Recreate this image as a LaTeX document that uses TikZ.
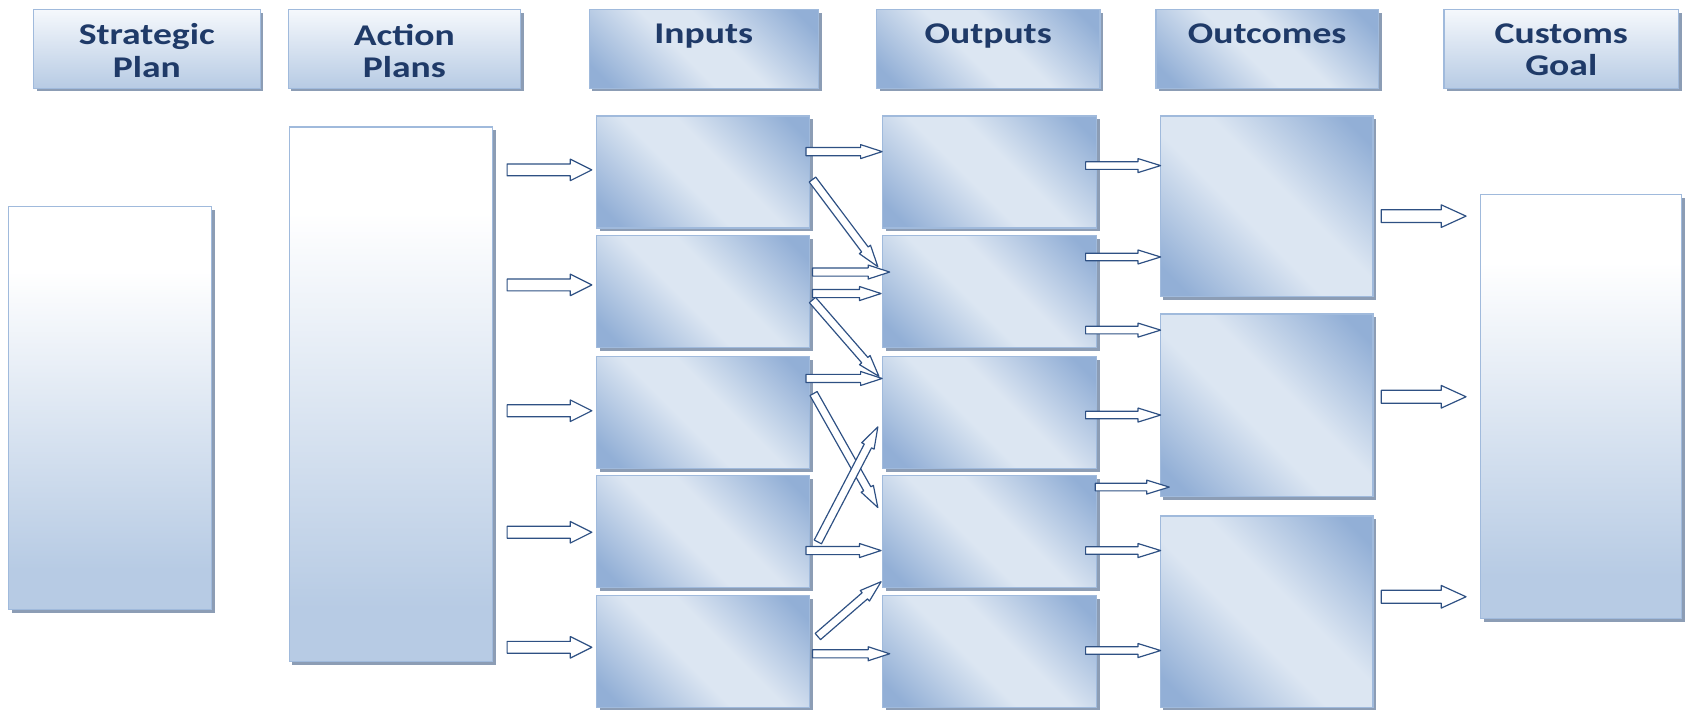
\documentclass[tikz,border=0pt]{standalone}
\usepackage{fontspec}
\newfontfamily\hdfont[FakeStretch=1.25]{Carlito}
\usetikzlibrary{calc,shadows}

\definecolor{edgec}{HTML}{A0BADC}
\definecolor{shadc}{HTML}{8C9DB5}
\definecolor{dk}{HTML}{92AFD6}
\definecolor{lt}{HTML}{DCE6F2}
\definecolor{vbot}{HTML}{B7CBE4}
\definecolor{htop}{HTML}{F5F8FC}
\definecolor{inkc}{HTML}{1F3A68}
\definecolor{arrowc}{HTML}{2E5083}

% diagonal "glossy" fill: dark corners, light band through the middle
\pgfdeclarehorizontalshading{glossy}{100bp}{color(0bp)=(dk); color(20bp)=(dk); color(44bp)=(lt); color(56bp)=(lt); color(80bp)=(dk); color(100bp)=(dk)}
% pale vertical fill for the tall side panels
\pgfdeclareverticalshading{paleup}{100bp}{color(0bp)=(vbot); color(30bp)=(vbot); color(67bp)=(white); color(100bp)=(white)}
% pale vertical fill for the plain headers
\pgfdeclareverticalshading{headup}{100bp}{color(0bp)=(vbot); color(25bp)=(vbot); color(75bp)=(htop); color(100bp)=(htop)}

\tikzset{
  panel/.style={rectangle, inner sep=0pt, draw=edgec, line width=1.2pt,
    drop shadow={shadow xshift=3pt, shadow yshift=-3pt, fill=shadc, opacity=1}},
  glosspanel/.style={panel, shading=glossy, shading angle=45},
  palepanel/.style={panel, shading=paleup},
  headpale/.style={panel, shading=headup},
  headlabel/.style={font=\hdfont\bfseries\fontsize{28}{30}\selectfont, text=inkc,
    align=center, inner sep=0pt, anchor=north},
  blockline/.style={draw=arrowc, fill=white, line width=1.1pt, line join=round},
}

% hollow block arrow from #1 to #2: half shaft #3, half head #4, head length #5
\newcommand\blockarrow[5]{%
  \coordinate (bac) at ($(#2)!#5!(#1)$);
  \draw[blockline] ($(#1)!#3!90:(#2)$) -- ($(bac)!#3!90:(#2)$) -- ($(bac)!#4!90:(#2)$)
    -- (#2) -- ($(bac)!#4!-90:(#2)$) -- ($(bac)!#3!-90:(#2)$) -- ($(#1)!#3!-90:(#2)$) -- cycle;}
\newcommand\bigarrow[2]{\blockarrow{#1}{#2}{5.5pt}{10pt}{20pt}}
\newcommand\smallarrow[2]{\blockarrow{#1}{#2}{3.8pt}{6.5pt}{20pt}}
\newcommand\goalarrow[2]{\blockarrow{#1}{#2}{6pt}{10.5pt}{23pt}}
% named point offset from a given point
\newcommand\spot[4]{\path (#2) ++(#3,#4) coordinate (#1);}

\begin{document}
\begin{tikzpicture}[x=1pt,y=1pt]
\fill[white] (0,0) rectangle (1568,-660);
\useasboundingbox (0,0) rectangle (1568,-660);

% column headers
\node[headpale,  minimum width=211pt, minimum height=73pt] (hSP)  at (136.5,-45.5) {};
\node[headpale,  minimum width=216pt, minimum height=73pt] (hAP)  at (376,-45.5) {};
\node[glosspanel,minimum width=213pt, minimum height=73pt] (hIn)  at (654.5,-45.5) {};
\node[glosspanel,minimum width=208pt, minimum height=73pt] (hOut) at (919,-45.5) {};
\node[glosspanel,minimum width=207pt, minimum height=73pt] (hOc)  at (1178.5,-45.5) {};
\node[headpale,  minimum width=218pt, minimum height=73pt] (hCG)  at (1452,-45.5) {};

\node[headlabel] (tSP)  at ([yshift=-13.6pt]hSP.north)  {Strategic\\Plan};
\node[headlabel] (tAP)  at ([yshift=-13.6pt]hAP.north)  {Action\\Plans};
\node[headlabel] (tIn)  at ([yshift=-13.6pt]hIn.north)  {Inputs};
\node[headlabel] (tOut) at ([yshift=-13.6pt]hOut.north) {Outputs};
\node[headlabel] (tOc)  at ([yshift=-13.6pt]hOc.north)  {Outcomes};
\node[headlabel] (tCG)  at ([yshift=-13.6pt]hCG.north)  {Customs\\Goal};

% side panels
\node[palepanel, minimum width=189pt, minimum height=375pt] (sp) at (102.5,-379.5) {};
\node[palepanel, minimum width=189pt, minimum height=497pt] (ap) at (363.5,-366.5) {};
\node[palepanel, minimum width=187pt, minimum height=394pt] (cg) at (1470.5,-378) {};

% inputs and outputs
\foreach \i/\cy in {1/160,2/271,3/383.5,4/494.5,5/606}{
  \node[glosspanel, minimum width=198pt, minimum height=104pt] (in\i)  at (654,-\cy) {};
  \node[glosspanel, minimum width=199pt, minimum height=104pt] (out\i) at (920.5,-\cy) {};
}

% outcomes
\node[glosspanel, minimum width=198pt, minimum height=168pt] (oc1) at (1178,-192) {};
\node[glosspanel, minimum width=198pt, minimum height=170pt] (oc2) at (1178,-377) {};
\node[glosspanel, minimum width=198pt, minimum height=178pt] (oc3) at (1178,-569) {};

% action plans -> inputs
\foreach \i/\dy in {1/2,2/6,3/1.5,4/-0.5,5/4}{
  \spot{la\i}{ap.east |- in\i.west}{13}{\dy}
  \spot{lb\i}{in\i.west}{-4}{\dy}
  \bigarrow{la\i}{lb\i}
}

% inputs -> outputs
\spot{ia1}{in1.east}{-4}{19}    \spot{ib1}{out1.west}{0}{19}
\spot{ia2}{in1.east}{2}{-7}     \spot{ib2}{out2.west}{-4}{23}
\spot{ia3}{in2.east}{2}{18}     \spot{ib3}{out2.west}{7}{18}
\spot{ia4}{in2.east}{2}{-2}     \spot{ib4}{out2.west}{-1}{-2}
\spot{ia5}{in2.east}{2}{-8}     \spot{ib5}{out3.west}{-3}{33.5}
\spot{ia6}{in3.east}{-4}{31.5}  \spot{ib6}{out3.west}{0}{31.5}
\spot{ia7}{in3.east}{3}{17.5}   \spot{ib7}{out4.west}{-4}{22.5}
\spot{ia8}{in4.east}{7}{-9.5}   \spot{ib8}{out3.west}{-4}{-13.5}
\spot{ia9}{in4.east}{-4}{-17.5} \spot{ib9}{out4.west}{-1}{-17.5}
\spot{ia10}{in5.east}{7}{14}    \spot{ib10}{out4.west}{-1}{-46.5}
\spot{ia11}{in5.east}{2}{-2}    \spot{ib11}{out5.west}{7}{-2}
\foreach \k in {1,...,11}{\smallarrow{ia\k}{ib\k}}

% outputs -> outcomes
\spot{oa1}{out1.east}{-11}{6}     \spot{ob1}{oc1.west |- out1.east}{1}{6}
\spot{oa2}{out2.east}{-11}{32}    \spot{ob2}{oc1.west |- out2.east}{1}{32}
\spot{oa3}{out2.east}{-11}{-36}   \spot{ob3}{oc2.west |- out2.east}{1}{-36}
\spot{oa4}{out3.east}{-11}{-2.5}  \spot{ob4}{oc2.west |- out3.east}{1}{-2.5}
\spot{oa5}{out4.east}{-2}{41.5}   \spot{ob5}{oc2.west |- out4.east}{9}{41.5}
\spot{oa6}{out4.east}{-11}{-17.5} \spot{ob6}{oc3.west |- out4.east}{1}{-17.5}
\spot{oa7}{out5.east}{-11}{1}     \spot{ob7}{oc3.west |- out5.east}{1}{1}
\foreach \k in {1,...,7}{\blockarrow{oa\k}{ob\k}{3.5pt}{6.5pt}{21pt}}

% outcomes -> customs goal
\foreach \i/\dy in {1/-9,2/8,3/14}{
  \spot{ga\i}{oc\i.east}{7}{\dy}
  \spot{gb\i}{cg.west |- oc\i.east}{-13}{\dy}
  \goalarrow{ga\i}{gb\i}
}
\end{tikzpicture}
\end{document}
